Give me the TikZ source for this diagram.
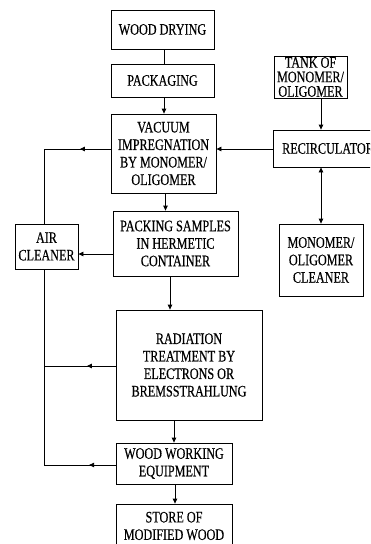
\documentclass[tikz,border=0pt]{standalone}
\usepackage{fontspec}
\setmainfont{Liberation Serif}[FakeStretch=0.76,FakeBold=0.35]
\usetikzlibrary{arrows.meta,decorations.markings}
\tikzset{
  box/.style={draw, line width=0.8pt, align=center, inner sep=0pt,
    font=\fontsize{16}{17.5}\selectfont},
  tight/.style={font=\fontsize{16}{14.5}\selectfont},
  tip/.tip={Triangle[length=5pt,width=4.5pt]},
  arr/.style={line width=0.8pt, -tip},
  dbl/.style={line width=0.8pt, tip-tip},
  ln/.style={line width=0.8pt},
  midarr/.style={line width=0.8pt, postaction={decorate},
    decoration={markings, mark=at position #1 with {\arrow{tip}}}},
}
\begin{document}
\begin{tikzpicture}[x=1pt,y=-1pt]
\useasboundingbox (0,0) rectangle (370,544);
\clip (0,0) rectangle (370,544);
% boxes
\node[box, minimum width=103pt, minimum height=39pt] (dry) at (162.5,29.5) {WOOD DRYING};
\node[box, minimum width=103pt, minimum height=33pt] (pack) at (162.5,80.5) {PACKAGING};
\node[box, minimum width=105pt, minimum height=79pt] (vac) at (163.5,153.5) {VACUUM\\IMPREGNATION\\BY MONOMER/\\OLIGOMER};
\node[box, tight, minimum width=73pt, minimum height=42pt] (tank) at (310.5,77) {TANK OF\\MONOMER/\\OLIGOMER};
\node[box, minimum width=110pt, minimum height=37pt] (recirc) at (328,148.5) {RECIRCULATOR};
\node[box, minimum width=63pt, minimum height=45pt] (aircl) at (46.5,246.5) {AIR\\CLEANER};
\node[box, minimum width=125pt, minimum height=65pt] (packs) at (175.5,243.5) {PACKING SAMPLES\\IN HERMETIC\\CONTAINER};
\node[box, minimum width=84pt, minimum height=72pt] (moncl) at (321,260) {MONOMER/\\OLIGOMER\\CLEANER};
\node[box, minimum width=146pt, minimum height=110pt] (rad) at (189,365) {RADIATION\\TREATMENT BY\\ELECTRONS OR\\BREMSSTRAHLUNG};
\node[box, minimum width=116pt, minimum height=41pt] (ww) at (174,463.5) {WOOD WORKING\\EQUIPMENT};
\node[box, minimum width=116pt, minimum height=44pt] (store) at (174,526) {STORE OF\\MODIFIED WOOD};
% helper coordinates
\coordinate (cx1) at (164,0);
\coordinate (cx2) at (165.5,0);
\coordinate (cx3) at (170,0);
\coordinate (cx4) at (174,0);
\coordinate (cx5) at (175,0);
\coordinate (cr) at (321,0);
\coordinate (L) at (44,0);
\coordinate (h1) at (0,149);
\coordinate (h2) at (0,254);
\coordinate (h3) at (0,366);
\coordinate (h4) at (0,465);
% main chain
\draw[ln] (dry.south -| cx1) -- (pack.north -| cx1);
\draw[arr] (pack.south -| cx1) -- (vac.north -| cx1);
\draw[arr] (vac.south -| cx2) -- (packs.north -| cx2);
\draw[arr] (packs.south -| cx3) -- (rad.north -| cx3);
\draw[arr] (rad.south -| cx4) -- (ww.north -| cx4);
\draw[arr] (ww.south -| cx5) -- (store.north -| cx5);
% right side
\draw[arr] (tank.south -| cr) -- (recirc.north -| cr);
\draw[dbl] (recirc.south -| cr) -- (moncl.north -| cr);
\draw[arr] (recirc.west |- h1) -- (vac.east |- h1);
% left side
\draw[midarr=0.46] (vac.west |- h1) -- (L |- h1);
\draw[ln] (L |- h1) -- (L |- aircl.north);
\draw[arr] (packs.west |- h2) -- (aircl.east |- h2);
\draw[ln] (L |- aircl.south) -- (L |- h4);
\draw[midarr=0.4] (rad.west |- h3) -- (L |- h3);
\draw[midarr=0.37] (ww.west |- h4) -- (L |- h4);
\end{tikzpicture}
\end{document}
